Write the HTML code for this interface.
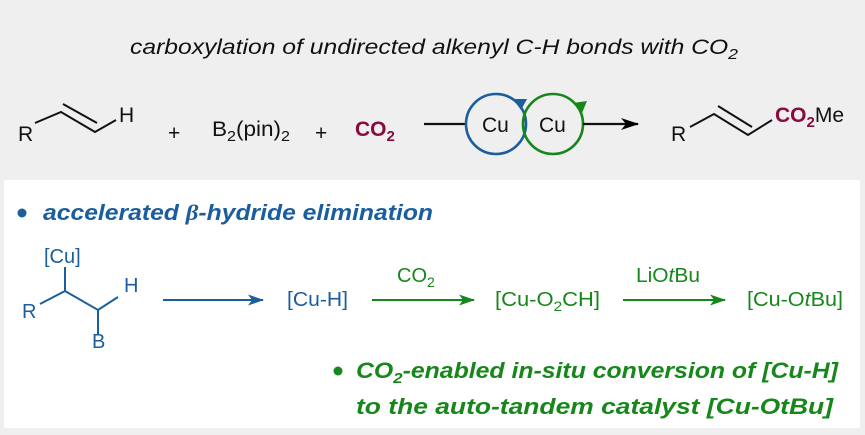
<!DOCTYPE html>
<html><head><meta charset="utf-8"><style>
html,body{margin:0;padding:0;background:#efefef;}
svg{display:block;font-family:"Liberation Sans",Arial,sans-serif;}
</style></head><body>
<svg width="865" height="435" viewBox="0 0 865 435" xmlns="http://www.w3.org/2000/svg">
<defs>
<marker id="ab" markerWidth="16" markerHeight="11" refX="15" refY="5.5" orient="auto" markerUnits="userSpaceOnUse"><path d="M0,0 L16,5.5 L0,11 L4,5.5z" fill="#1b5e9e"/></marker>
<marker id="ag" markerWidth="16" markerHeight="11" refX="15" refY="5.5" orient="auto" markerUnits="userSpaceOnUse"><path d="M0,0 L16,5.5 L0,11 L4,5.5z" fill="#17871b"/></marker>
<marker id="akk" markerWidth="18" markerHeight="12" refX="17" refY="6" orient="auto" markerUnits="userSpaceOnUse"><path d="M0,0 L18,6 L0,12 L5,6z" fill="#000"/></marker>
</defs>
<rect x="0" y="0" width="865" height="435" fill="#efefef"/>
<text x="130" y="54" font-size="21" font-style="italic" fill="#111" textLength="608" lengthAdjust="spacingAndGlyphs">carboxylation of undirected alkenyl C-H bonds with CO<tspan font-size="15" dy="5">2</tspan></text>

<!-- row 1 -->
<g stroke="#111" stroke-width="2" fill="none">
<path d="M35,123 L61,112 L95,132 L116,120"/>
<path d="M63,104 L97,123"/>
<path d="M690,127 L714,114 L748,135 L772,120"/>
<path d="M718,106 L752,127"/>
</g>
<g font-size="21" fill="#111">
<text x="18" y="141">R</text>
<text x="119" y="122">H</text>
<text x="168" y="140">+</text>
<text x="212" y="136" textLength="78" lengthAdjust="spacingAndGlyphs">B<tspan font-size="15" dy="5">2</tspan><tspan dy="-5">(pin)</tspan><tspan font-size="15" dy="5">2</tspan></text>
<text x="315" y="140">+</text>
<text x="355" y="136" font-weight="bold" fill="#8b0b3f">CO<tspan font-size="15" dy="5">2</tspan></text>
<text x="671" y="141">R</text>
<text x="775" y="122"><tspan font-weight="bold" fill="#8b0b3f">CO<tspan font-size="15" dy="5">2</tspan></tspan><tspan dy="-5">Me</tspan></text>
</g>
<line x1="424" y1="124" x2="466" y2="124" stroke="#111" stroke-width="2.2"/>
<circle cx="496" cy="124" r="30" fill="none" stroke="#1b5e9e" stroke-width="2.6"/>
<circle cx="553" cy="124" r="30" fill="none" stroke="#17871b" stroke-width="2.6"/>
<path d="M513,99 L527,99 L521,110 z" fill="#1b5e9e"/>
<path d="M573,103 L587,101 L582,113 z" fill="#17871b"/>
<line x1="583" y1="124" x2="638" y2="124" stroke="#111" stroke-width="2.2" marker-end="url(#akk)"/>
<text x="482" y="132" font-size="21" fill="#111">Cu</text>
<text x="539" y="132" font-size="21" fill="#111">Cu</text>

<!-- bottom box -->
<rect x="4" y="180" width="856" height="248" fill="#ffffff"/>
<circle cx="22" cy="213" r="4.5" fill="#1b5e9e"/>
<text x="43" y="220" font-size="22" font-weight="bold" font-style="italic" fill="#1b5e9e" textLength="390" lengthAdjust="spacingAndGlyphs">accelerated <tspan font-family="Liberation Serif,serif">β</tspan>-hydride elimination</text>

<g stroke="#1b5e9e" stroke-width="2" fill="none">
<path d="M65,267 L65,291"/>
<path d="M40,304 L65,291 L98,310 L118,297"/>
<path d="M98,310 L98,335"/>
</g>
<g font-size="20" fill="#1b5e9e">
<text x="44" y="263">[Cu]</text>
<text x="22" y="318">R</text>
<text x="124" y="292">H</text>
<text x="92" y="348">B</text>
<text x="287" y="306" textLength="61" lengthAdjust="spacingAndGlyphs">[Cu-H]</text>
</g>
<line x1="163" y1="300" x2="263" y2="300" stroke="#1b5e9e" stroke-width="2" marker-end="url(#ab)"/>

<line x1="372" y1="300" x2="474" y2="300" stroke="#17871b" stroke-width="2" marker-end="url(#ag)"/>
<line x1="623" y1="300" x2="725" y2="300" stroke="#17871b" stroke-width="2" marker-end="url(#ag)"/>
<g font-size="20" fill="#17871b">
<text x="397" y="282">CO<tspan font-size="14" dy="5">2</tspan></text>
<text x="636" y="282" textLength="64" lengthAdjust="spacingAndGlyphs">LiO<tspan font-style="italic">t</tspan>Bu</text>
<text x="495" y="306" textLength="105" lengthAdjust="spacingAndGlyphs">[Cu-O<tspan font-size="14" dy="5">2</tspan><tspan dy="-5">CH]</tspan></text>
<text x="747" y="306" textLength="96" lengthAdjust="spacingAndGlyphs">[Cu-O<tspan font-style="italic">t</tspan>Bu]</text>
</g>

<circle cx="338" cy="371" r="4.5" fill="#17871b"/>
<g font-size="22" font-weight="bold" font-style="italic" fill="#17871b">
<text x="356" y="378" textLength="482" lengthAdjust="spacingAndGlyphs">CO<tspan font-size="15" dy="5">2</tspan><tspan dy="-5">-enabled in-situ conversion of [Cu-H]</tspan></text>
<text x="356" y="414" textLength="477" lengthAdjust="spacingAndGlyphs">to the auto-tandem catalyst [Cu-OtBu]</text>
</g>
</svg>
</body></html>
